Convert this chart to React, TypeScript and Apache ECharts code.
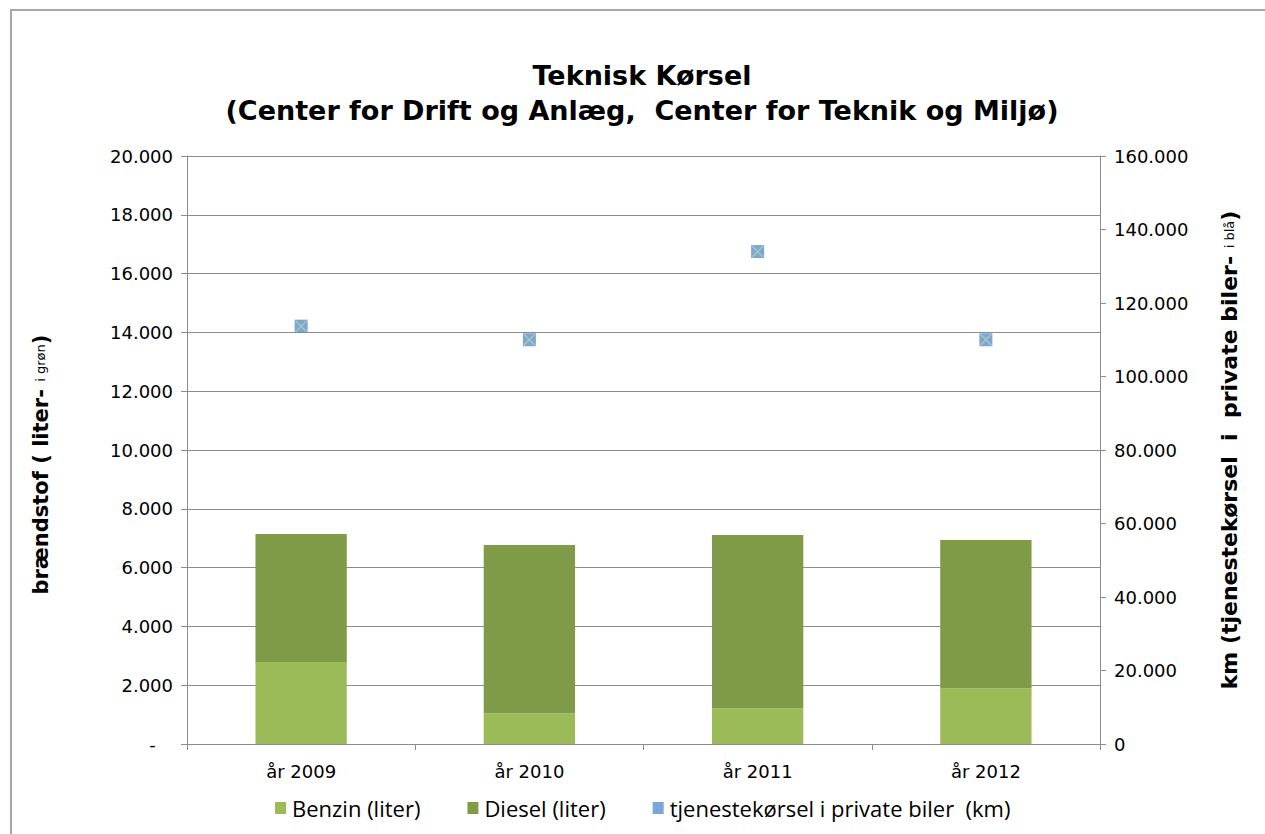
import React, { useEffect, useRef } from "react";
import * as echarts from "echarts";

const categories = ["år 2009", "år 2010", "år 2011", "år 2012"];
const benzin = [2790, 1050, 1220, 1900];
const diesel = [4350, 5720, 5890, 5040];
const km = [113700, 110000, 134000, 110000];

const fmt = (v: number) => {
  const s = Math.round(v).toString();
  return s.replace(/\B(?=(\d{3})+(?!\d))/g, ".");
};

export default function App() {
  const ref = useRef<HTMLDivElement>(null);
  useEffect(() => {
    const chart = echarts.init(ref.current!, null, { renderer: "svg" });
    const font = "DejaVu Sans";
    const grey = "#8c8c8c";
    chart.setOption({
      animation: false,
      backgroundColor: "#ffffff",
      title: {
        text: "Teknisk Kørsel\n(Center for Drift og Anlæg,  Center for Teknik og Miljø)",
        left: 637,
        textAlign: "center",
        top: 53,
        textStyle: { fontFamily: font, fontWeight: "bold", fontSize: 27, lineHeight: 35, color: "#000" },
      },
      graphic: [
        {
          type: "rect",
          shape: { x: 11, y: 10, width: 1400, height: 1000 },
          style: { fill: "none", stroke: "#a6a6a6", lineWidth: 2 },
          silent: true,
        },
      ],
      legend: {
        bottom: 10,
        left: 270,
        itemWidth: 11,
        itemHeight: 12,
        itemGap: 47,
        textStyle: { fontFamily: "Open Sans", fontSize: 22, color: "#000", padding: [0, 0, 0, 1] },
        data: [
          { name: "Benzin (liter)", icon: "rect" },
          { name: "Diesel (liter)", icon: "rect" },
          { name: "tjenestekørsel i private biler  (km)", icon: "rect" },
        ],
      },
      grid: { left: 187, right: 165, top: 156, bottom: 90 },
      xAxis: {
        type: "category",
        data: categories,
        axisLine: { lineStyle: { color: grey } },
        axisTick: { show: true, length: 6, lineStyle: { color: grey } },
        axisLabel: { fontFamily: font, fontSize: 18, color: "#000", margin: 18 },
      },
      yAxis: [
        {
          type: "value",
          min: 0,
          max: 20000,
          interval: 2000,
          name: "{b|brændstof ( liter- }{s|i grøn}{b|)    }",
          nameLocation: "middle",
          nameGap: 136,
          nameTextStyle: {
            rich: {
              b: { fontFamily: font, fontWeight: "bold", fontSize: 21, color: "#000" },
              s: { fontFamily: font, fontSize: 13, color: "#000" },
            },
          },
          axisLine: { show: true, lineStyle: { color: grey } },
          axisTick: { show: true, length: 6, lineStyle: { color: grey } },
          splitLine: { lineStyle: { color: grey } },
          axisLabel: {
            fontFamily: font,
            fontSize: 18,
            color: "#000",
            margin: 14,
            formatter: (v: number) => (v === 0 ? "-   " : fmt(v)),
          },
        },
        {
          type: "value",
          min: 0,
          max: 160000,
          interval: 20000,
          name: "{b|km (tjenestekørsel  i  private biler- }{s|i blå}{b|)}",
          nameLocation: "middle",
          nameGap: 118,
          nameTextStyle: {
            rich: {
              b: { fontFamily: font, fontWeight: "bold", fontSize: 22, color: "#000" },
              s: { fontFamily: font, fontSize: 13, color: "#000" },
            },
          },
          axisLine: { show: true, lineStyle: { color: grey } },
          axisTick: { show: true, length: 6, lineStyle: { color: grey } },
          splitLine: { show: false },
          axisLabel: {
            fontFamily: font,
            fontSize: 18,
            color: "#000",
            margin: 14,
            formatter: (v: number) => fmt(v),
          },
        },
      ],
      series: [
        {
          name: "Benzin (liter)",
          type: "bar",
          stack: "fuel",
          barWidth: "40%",
          data: benzin,
          itemStyle: { color: "#9bbb59" },
        },
        {
          name: "Diesel (liter)",
          type: "bar",
          stack: "fuel",
          barWidth: "40%",
          data: diesel,
          itemStyle: { color: "#7f9b48" },
        },
        {
          name: "tjenestekørsel i private biler  (km)",
          type: "scatter",
          yAxisIndex: 1,
          symbol: "rect",
          symbolSize: 13,
          data: km,
          itemStyle: { color: "#5b8fd0" },
          z: 3,
        },
        {
          name: "kryds",
          type: "scatter",
          yAxisIndex: 1,
          symbol: "path://M0,0L10,10M10,0L0,10",
          symbolSize: 11,
          data: km,
          itemStyle: { color: "none", borderColor: "#b5d69a", borderWidth: 1.4 },
          z: 4,
          silent: true,
        },
      ],
    });
    return () => chart.dispose();
  }, []);
  return <div ref={ref} style={{ position: "fixed", left: 0, top: 0, width: 1265, height: 834 }} />;
}
